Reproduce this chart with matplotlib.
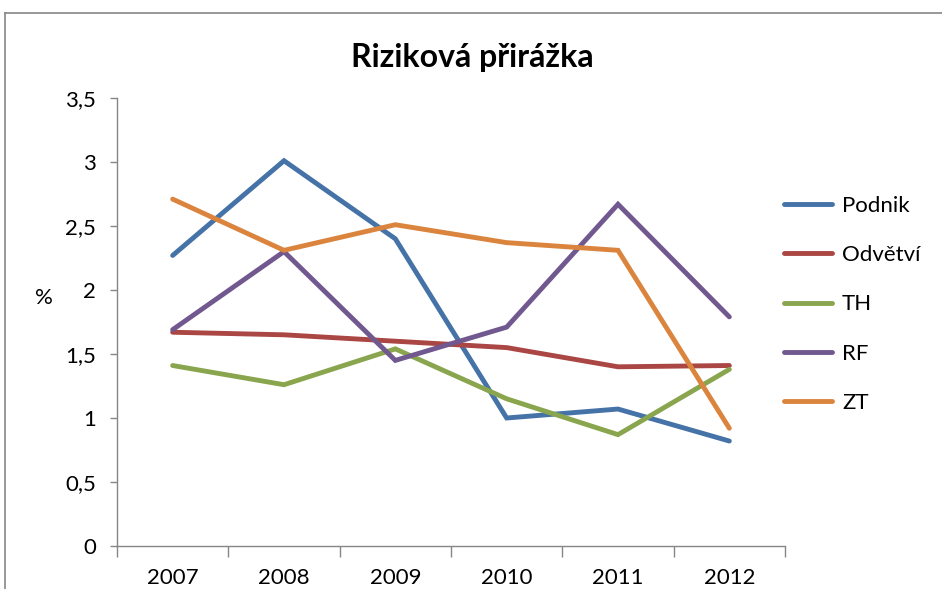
import matplotlib
matplotlib.use("Agg")
import matplotlib.pyplot as plt
from matplotlib.lines import Line2D
from matplotlib.ticker import FixedLocator, FuncFormatter

plt.rcParams['font.family'] = ['Lato', 'DejaVu Sans']

years = ["2007", "2008", "2009", "2010", "2011", "2012"]
podnik = [2.27, 3.01, 2.40, 1.00, 1.07, 0.82]
odvetvi = [1.67, 1.65, 1.60, 1.55, 1.40, 1.41]
th = [1.41, 1.26, 1.54, 1.15, 0.87, 1.38]
rf = [1.69, 2.30, 1.45, 1.71, 2.67, 1.79]
zt = [2.71, 2.31, 2.51, 2.37, 2.31, 0.92]
series_names = ["Podnik", "Odvětví", "TH", "RF", "ZT"]
yticks = [0, 0.5, 1, 1.5, 2, 2.5, 3, 3.5]

colors = ['#4572A7', '#AA4643', '#89A54E', '#71588F', '#DB843D']

fig = plt.figure(figsize=(9.42, 5.89), dpi=100)
ax = fig.add_axes([117/942, 1-546/589, (785-117)/942, (546-98)/589])

x = list(range(len(years)))
for vals, name, c in zip([podnik, odvetvi, th, rf, zt], series_names, colors):
    ax.plot(x, vals, color=c, lw=3.5, label=name, solid_capstyle='round', solid_joinstyle='miter')

ax.set_xlim(-0.5, len(years) - 0.5)
ax.set_ylim(0, 3.5)
ax.xaxis.set_major_locator(FixedLocator([i - 0.5 for i in range(len(years) + 1)]))
ax.xaxis.set_minor_locator(FixedLocator(x))
ax.set_xticklabels([])
ax.set_xticklabels(years, minor=True)
ax.tick_params(axis='x', which='major', length=8, width=1, color='#868686', direction='out')
ax.tick_params(axis='x', which='minor', length=0, labelsize=16, pad=16)
ax.set_yticks(yticks)
ax.yaxis.set_major_formatter(FuncFormatter(lambda v, p: (f"{v:g}").replace('.', ',')))
ax.tick_params(axis='y', length=5, width=1, color='#868686', labelsize=16, pad=10)

for s in ['top', 'right']:
    ax.spines[s].set_visible(False)
for s in ['left', 'bottom']:
    ax.spines[s].set_color('#868686')
    ax.spines[s].set_linewidth(1)

ax.set_ylabel('%', rotation=0, fontsize=16, labelpad=0, va='center', ha='center')
ax.yaxis.set_label_coords(-0.109, 0.554)

fig.text(472/942, 1-58/589, 'Riziková přirážka', ha='center', va='center', fontsize=23, fontweight='bold')

leg = ax.legend(loc='upper left', bbox_to_anchor=(0.999, 0.782), frameon=False, fontsize=16,
                handlelength=2.15, handletextpad=0.45, labelspacing=1.32, borderaxespad=0,
                borderpad=0)

# outer chart frame
fig.add_artist(Line2D([4.5/942, 4.5/942], [0, 1-12.5/589], color='#868686', lw=1.2))
fig.add_artist(Line2D([4.5/942, 1], [1-12.5/589, 1-12.5/589], color='#868686', lw=1.2))

fig.savefig('out.png', dpi=100)
